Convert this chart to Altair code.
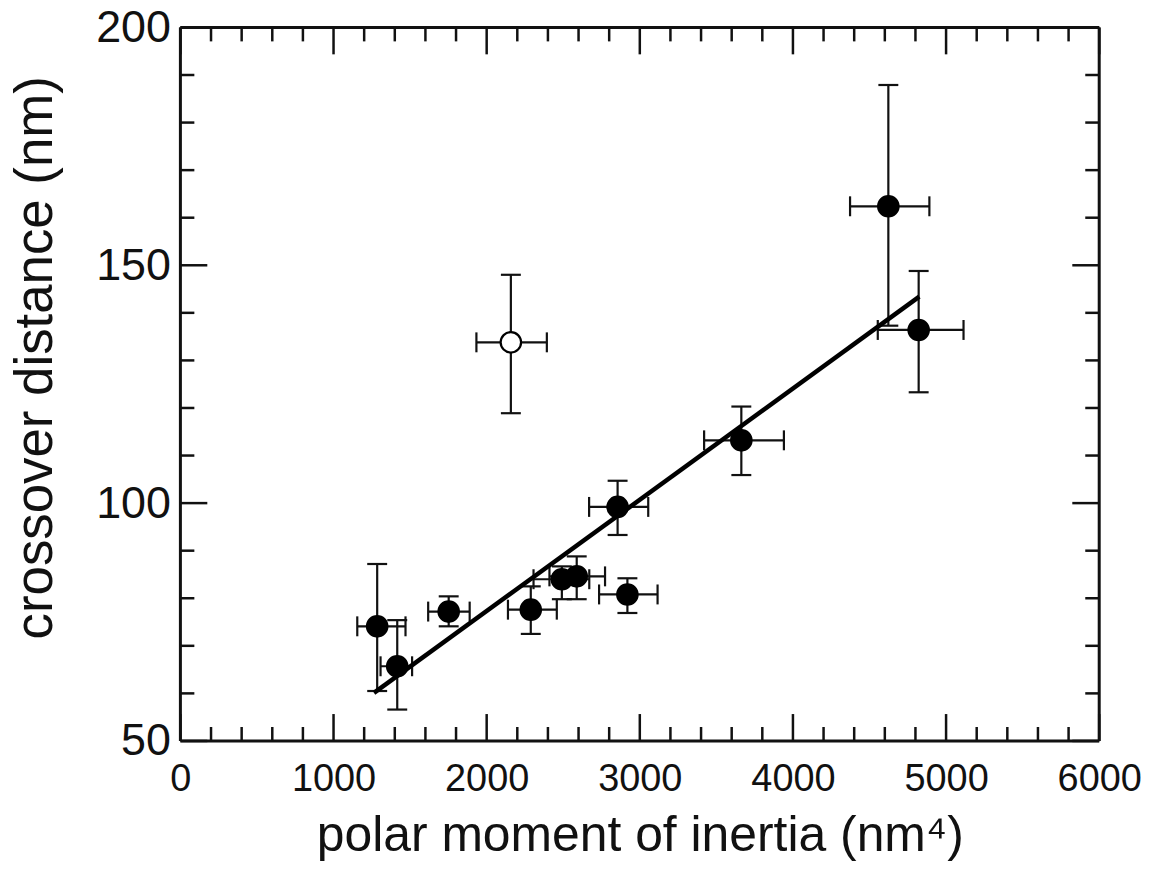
import altair as alt
import pandas as pd

# data points
x_vals = [1285, 1416, 1752, 2288, 2491, 2588, 2919, 2855, 3663, 4623, 4821, 2158]
y_vals = [74.1, 65.7, 77.2, 77.6, 84.0, 84.6, 80.8, 99.2, 113.2, 162.4, 136.4, 133.8]
x_low = [1155, 1307, 1618, 2139, 2306, 2410, 2734, 2669, 3420, 4373, 4554, 1933]
x_high = [1470, 1513, 1889, 2458, 2670, 2773, 3116, 3055, 3941, 4891, 5114, 2393]
y_low = [60.5, 56.6, 74.1, 72.5, 79.8, 79.8, 76.9, 93.3, 105.9, 137.3, 123.3, 118.9]
y_high = [87.2, 75.4, 80.4, 82.5, 86.7, 88.8, 84.2, 104.7, 120.3, 187.9, 148.8, 148.0]
filled = [True, True, True, True, True, True, True, True, True, True, True, False]

# linear fit line end points
fit_x = [1264, 4825]
fit_y = [60.1, 143.4]

# axis ticks
x_major = [0, 1000, 2000, 3000, 4000, 5000, 6000]
x_minor = [200, 400, 600, 800, 1200, 1400, 1600, 1800, 2200, 2400, 2600, 2800,
           3200, 3400, 3600, 3800, 4200, 4400, 4600, 4800, 5200, 5400, 5600, 5800]
y_major = [50, 100, 150, 200]
y_minor = [60, 70, 80, 90, 110, 120, 130, 140, 160, 170, 180, 190]

W, H = 922, 716
INK = "#111111"
FONT = "Liberation Sans"

df = pd.DataFrame(dict(x=x_vals, y=y_vals, xlo=x_low, xhi=x_high,
                       ylo=y_low, yhi=y_high, filled=filled))
fit_df = pd.DataFrame(dict(x=fit_x, y=fit_y))
xmaj = pd.DataFrame(dict(v=x_major))
xmin = pd.DataFrame(dict(v=x_minor))
ymaj = pd.DataFrame(dict(v=y_major))
ymin = pd.DataFrame(dict(v=y_minor))
frame_df = pd.DataFrame(dict(x=[0, 6000], y=[50, 200]))

xscale = alt.Scale(domain=[0, 6000], nice=False, zero=False)
yscale = alt.Scale(domain=[50, 200], nice=False, zero=False)

xaxis = alt.Axis(values=x_major, format="d", ticks=False, tickSize=0, domain=False,
                 grid=False, labelFontSize=38, labelPadding=20, labelFont=FONT,
                 labelFlush=False, labelOverlap=False,
                 labelColor=INK, title="polar moment of inertia (nm\u2074)",
                 titleFont=FONT, titleFontSize=50, titleFontWeight="normal",
                 titleColor=INK, titlePadding=12)
yaxis = alt.Axis(values=y_major, format="d", ticks=False, tickSize=0, domain=False,
                 grid=False, labelFontSize=45, labelPadding=10, labelFont=FONT,
                 labelFlush=False, labelOverlap=False,
                 labelColor=INK, title="crossover distance (nm)",
                 titleFont=FONT, titleFontSize=53, titleFontWeight="normal",
                 titleColor=INK, titleAngle=270, titleBaseline="bottom",
                 titleX=-118, titleY=331)

base = alt.Chart(df)

X = alt.X("x:Q", scale=xscale, axis=xaxis)
Y = alt.Y("y:Q", scale=yscale, axis=yaxis)

SW = 2.2
vbar = base.mark_rule(color=INK, strokeWidth=SW).encode(
    x=alt.X("x:Q", scale=xscale), y=alt.Y("ylo:Q", scale=yscale), y2="yhi:Q")
hbar = base.mark_rule(color=INK, strokeWidth=SW).encode(
    y=alt.Y("y:Q", scale=yscale), x=alt.X("xlo:Q", scale=xscale), x2="xhi:Q")
cap_lo = base.mark_tick(orient="horizontal", color=INK, size=20, thickness=SW, opacity=1).encode(
    x=alt.X("x:Q", scale=xscale), y=alt.Y("ylo:Q", scale=yscale))
cap_hi = base.mark_tick(orient="horizontal", color=INK, size=20, thickness=SW, opacity=1).encode(
    x=alt.X("x:Q", scale=xscale), y=alt.Y("yhi:Q", scale=yscale))
cap_l = base.mark_tick(orient="vertical", color=INK, size=20, thickness=SW, opacity=1).encode(
    x=alt.X("xlo:Q", scale=xscale), y=alt.Y("y:Q", scale=yscale))
cap_r = base.mark_tick(orient="vertical", color=INK, size=20, thickness=SW, opacity=1).encode(
    x=alt.X("xhi:Q", scale=xscale), y=alt.Y("y:Q", scale=yscale))

fit = alt.Chart(fit_df).mark_line(color="black", strokeWidth=4.5).encode(
    x=alt.X("x:Q", scale=xscale), y=alt.Y("y:Q", scale=yscale))

points = base.mark_point(filled=True, size=420, strokeWidth=2.2, opacity=1).encode(
    x=X, y=Y,
    fill=alt.condition("datum.filled", alt.value("black"), alt.value("white")),
    stroke=alt.value("black"),
)

def tick_rules(d, orient, length):
    m = alt.Chart(d).mark_rule(color=INK, strokeWidth=2.5)
    if orient == "bottom":
        return m.encode(x=alt.X("v:Q", scale=xscale), y=alt.value(H), y2=alt.value(H - length))
    if orient == "top":
        return m.encode(x=alt.X("v:Q", scale=xscale), y=alt.value(0), y2=alt.value(length))
    if orient == "left":
        return m.encode(y=alt.Y("v:Q", scale=yscale), x=alt.value(0), x2=alt.value(length))
    return m.encode(y=alt.Y("v:Q", scale=yscale), x=alt.value(W), x2=alt.value(W - length))

ticks = []
for o in ["bottom", "top"]:
    ticks.append(tick_rules(xmaj, o, 27))
    ticks.append(tick_rules(xmin, o, 14))
for o in ["left", "right"]:
    ticks.append(tick_rules(ymaj, o, 27))
    ticks.append(tick_rules(ymin, o, 14))

# plot frame (four sides) drawn from the domain ends
frame_v = alt.Chart(frame_df).mark_rule(color=INK, strokeWidth=3).encode(
    x=alt.X("x:Q", scale=xscale), y=alt.value(0), y2=alt.value(H))
frame_h = alt.Chart(frame_df).mark_rule(color=INK, strokeWidth=3).encode(
    y=alt.Y("y:Q", scale=yscale), x=alt.value(0), x2=alt.value(W))

chart = alt.layer(
    *ticks, frame_v, frame_h, vbar, hbar, cap_lo, cap_hi, cap_l, cap_r, fit, points
).properties(
    width=W, height=H,
    autosize=alt.AutoSizeParams(type="none"),
    padding={"left": 173, "top": 18, "right": 60, "bottom": 130},
).configure_view(
    stroke=None
).configure(background="white")

chart.save("out.html", embed_options={"renderer": "svg", "actions": False})
